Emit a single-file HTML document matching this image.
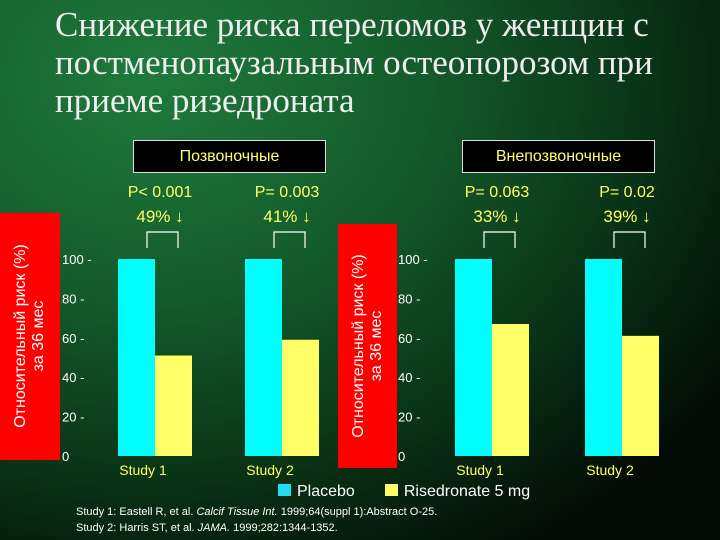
<!DOCTYPE html>
<html><head><meta charset="utf-8"><style>
body{margin:0;width:720px;height:540px;overflow:hidden;}
#bg{position:absolute;left:0;top:0;width:720px;height:540px;background:radial-gradient(ellipse 700px 560px at 150px 80px,#1f7a3c 0%,#145a2a 40%,#0a3517 70%,#020a04 100%);font-family:"Liberation Sans",sans-serif;}
.t{position:absolute;}
</style></head><body>
<div id="bg">
<div class="t" style="left:55px;top:6px;font-family:'Liberation Serif',serif;font-size:35px;line-height:38px;color:#eee;white-space:nowrap;">Снижение риска переломов у женщин с<br>постменопаузальным остеопорозом при<br>приеме ризедроната</div>
<div class="t" style="left:133px;top:140px;width:191px;height:31px;background:#000;border:1px solid #ddd;color:#ffff66;font-size:16px;text-align:center;line-height:31px;">Позвоночные</div>
<div class="t" style="left:462px;top:140px;width:191px;height:31px;background:#000;border:1px solid #ddd;color:#ffff66;font-size:16px;text-align:center;line-height:31px;">Внепозвоночные</div>
<svg id="chart" width="720" height="540" style="position:absolute;left:0;top:0"></svg>
<div class="t" style="left:0;top:213px;width:60px;height:247px;background:#f00;"><div style="position:absolute;left:30px;top:123px;transform:translate(-50%,-50%) rotate(-90deg);white-space:nowrap;color:#fff;font-size:16px;line-height:18px;text-align:center;">Относительный риск (%)<br>за 36 мес</div></div>
<div class="t" style="left:338px;top:224px;width:59px;height:244px;background:#f00;"><div style="position:absolute;left:30px;top:122px;transform:translate(-50%,-50%) rotate(-90deg);white-space:nowrap;color:#fff;font-size:16px;line-height:18px;text-align:center;">Относительный риск (%)<br>за 36 мес</div></div>
<div class="t" style="left:278px;top:483px;color:#fff;font-size:16px;"><span style="display:inline-block;width:13px;height:12px;background:#22ddee;margin-right:6px;"></span>Placebo<span style="display:inline-block;width:13px;height:12px;background:#ffff66;margin:0 6px 0 30px;"></span>Risedronate 5 mg</div>
<div class="t" style="left:76px;top:504px;color:#fff;font-size:11px;line-height:16px;">Study 1: Eastell R, et al. <i>Calcif Tissue Int.</i> 1999;64(suppl 1):Abstract O-25.<br>Study 2: Harris ST, et al. <i>JAMA.</i> 1999;282:1344-1352.</div>
</div>
<script>
const categories=["Study 1","Study 2"];
const vertPlacebo=[100,100];
const vertRise=[51,59];
const nonvertPlacebo=[100,100];
const nonvertRise=[67,61];
const pLabels=["P< 0.001","P= 0.003","P= 0.063","P= 0.02"];
const reductions=["49% ↓","41% ↓","33% ↓","39% ↓"];
const yTicks=[0,20,40,60,80,100];
const svg=document.getElementById('chart');
const NS='http://www.w3.org/2000/svg';
function el(tag,attrs,txt){const e=document.createElementNS(NS,tag);for(const k in attrs)e.setAttribute(k,attrs[k]);if(txt!==undefined)e.textContent=txt;svg.appendChild(e);return e;}
const y0=456,y100=259;
function ys(v){return y0-(y0-y100)*v/100;}
const panels=[{ax:62,groups:[118,245],pl:vertPlacebo,ri:vertRise,pi:0},{ax:398,groups:[455,585],pl:nonvertPlacebo,ri:nonvertRise,pi:2}];
const bw=37;
panels.forEach((p,pi)=>{
 yTicks.forEach(t=>{const e=el('text',{x:p.ax,y:ys(t)+5,fill:'#fff','font-size':'13','font-family':'Liberation Sans'},t+(t>0?' -':''));
 });
 categories.forEach((c,i)=>{
  const gx=p.groups[i];
  const b1=el('rect',{x:gx,y:ys(p.pl[i]),width:bw,height:y0-ys(p.pl[i]),fill:'#00ffff'});
  
  const b2=el('rect',{x:gx+bw,y:ys(p.ri[i]),width:bw,height:y0-ys(p.ri[i]),fill:'#ffff66'});
  
  const cl=el('text',{x:gx+bw-12,y:y0+19,fill:'#ffff66','font-size':'14','font-family':'Liberation Sans','text-anchor':'middle'},c);
  
  const k=p.pi+i;
  const pt=el('text',{x:gx+bw+5,y:197,fill:'#ffff66','font-size':'16','font-family':'Liberation Sans','text-anchor':'middle'},pLabels[k]);
  
  const rt=el('text',{x:gx+bw+5,y:222,fill:'#ffff66','font-size':'17','font-family':'Liberation Sans','text-anchor':'middle'},reductions[k]);
  
  const br=el('path',{d:`M${gx+bw-8},248 V232 H${gx+bw+23} V248`,stroke:'#fff','stroke-width':'1.2',fill:'none'});
  
 });
});
</script>
</body></html>
